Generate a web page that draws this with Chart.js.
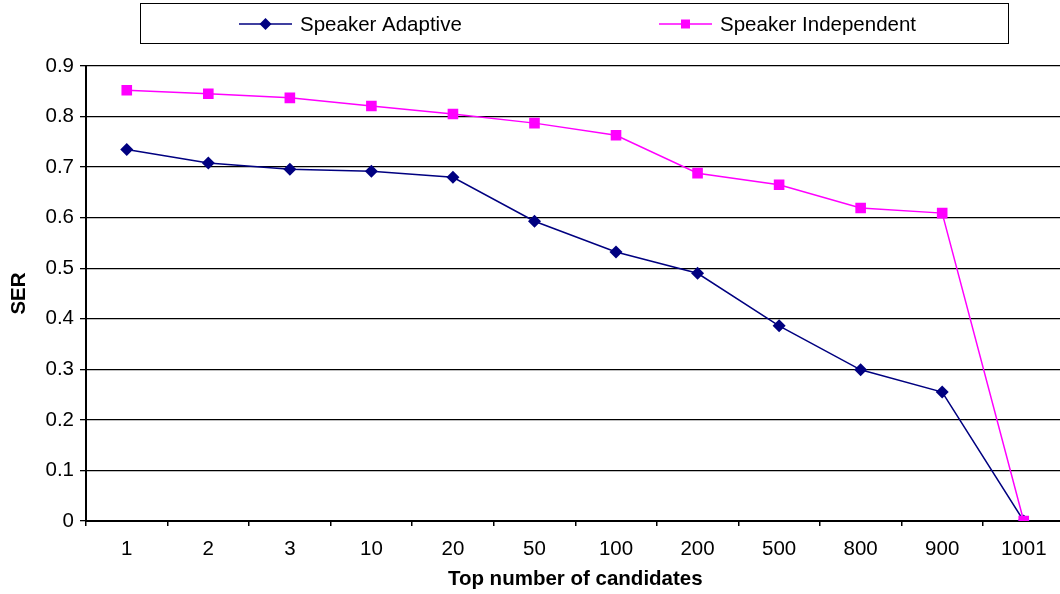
<!DOCTYPE html>
<html>
<head>
<meta charset="utf-8">
<script src="https://cdn.jsdelivr.net/npm/chart.js@4/dist/chart.umd.min.js"></script>
<style>
  html, body { margin: 0; padding: 0; background: #fff; overflow: hidden; }
  #wrap { width: 1060px; height: 594px; position: relative; overflow: hidden; }
</style>
</head>
<body>
<!-- plot area in the original runs past the right edge, so the canvas is a bit wider and clipped -->
<div id="wrap"><canvas id="serChart" width="1072" height="594"></canvas></div>
<script>
// candidate counts on the x axis
const candidates = ['1', '2', '3', '10', '20', '50', '100', '200', '500', '800', '900', '1001'];

// SER values
const speakerAdaptive = [0.735, 0.708, 0.696, 0.692, 0.680, 0.593, 0.532, 0.490, 0.386, 0.299, 0.255, 0];
const speakerIndependent = [0.852, 0.845, 0.837, 0.821, 0.805, 0.787, 0.763, 0.688, 0.665, 0.619, 0.609, 0];

const yTicks = [0, 0.1, 0.2, 0.3, 0.4, 0.5, 0.6, 0.7, 0.8, 0.9];

const FONT = 'Arial, "Liberation Sans", sans-serif';
const FSIZE = 20.5;

// legend in a framed box, like the original (line + marker + label)
const boxLegend = {
  id: 'boxLegend',
  afterDraw(chart) {
    const ctx = chart.ctx;
    ctx.save();
    ctx.strokeStyle = '#000';
    ctx.lineWidth = 1;
    ctx.strokeRect(140.5, 3.5, 868, 40);

    const items = [
      { ds: chart.data.datasets[0], x: 239, r: 6 },
      { ds: chart.data.datasets[1], x: 659, r: 6 }
    ];
    const y = 24;
    items.forEach(it => {
      const ds = it.ds;
      ctx.strokeStyle = ds.borderColor;
      ctx.lineWidth = 1.5;
      ctx.beginPath();
      ctx.moveTo(it.x, y);
      ctx.lineTo(it.x + 53, y);
      ctx.stroke();

      const cx = it.x + 26.5;
      const r = it.r;
      ctx.fillStyle = ds.pointBackgroundColor;
      ctx.beginPath();
      if (ds.pointStyle === 'rectRot') {
        ctx.moveTo(cx - r, y);
        ctx.lineTo(cx, y - r);
        ctx.lineTo(cx + r, y);
        ctx.lineTo(cx, y + r);
      } else {
        const s = r * 0.75;
        ctx.rect(cx - s, y - s, 2 * s, 2 * s);
      }
      ctx.closePath();
      ctx.fill();

      ctx.fillStyle = '#000';
      ctx.font = FSIZE + 'px ' + FONT;
      ctx.textBaseline = 'middle';
      ctx.textAlign = 'left';
      ctx.fillText(ds.label, it.x + 61, y + 1);
    });
    ctx.restore();
  }
};

const ctx = document.getElementById('serChart').getContext('2d');
new Chart(ctx, {
  type: 'line',
  data: {
    labels: candidates,
    datasets: [
      {
        label: 'Speaker Adaptive',
        data: speakerAdaptive,
        order: 1,
        borderColor: '#000080',
        backgroundColor: '#000080',
        pointBackgroundColor: '#000080',
        pointBorderColor: '#000080',
        pointStyle: 'rectRot',
        pointRadius: 6.5,
        pointBorderWidth: 0,
        borderWidth: 1.5,
        tension: 0
      },
      {
        label: 'Speaker Independent',
        data: speakerIndependent,
        order: 0, // magenta sits on top, as in the original
        borderColor: '#FF00FF',
        backgroundColor: '#FF00FF',
        pointBackgroundColor: '#FF00FF',
        pointBorderColor: '#FF00FF',
        pointStyle: 'rect',
        pointRadius: 7.5,
        pointBorderWidth: 0,
        borderWidth: 1.5,
        tension: 0
      }
    ]
  },
  options: {
    responsive: false,
    animation: false,
    devicePixelRatio: 1,
    layout: { padding: { top: 66, right: 2, left: 7, bottom: 2 } },
    plugins: {
      legend: { display: false },
      tooltip: { enabled: false }
    },
    scales: {
      x: {
        offset: true,
        afterFit(axis) { axis.height = 71; },
        grid: {
          offset: true,
          drawOnChartArea: false,
          drawTicks: true,
          tickLength: 5,
          color: '#000',
          lineWidth: 1.5
        },
        border: { color: '#000', width: 2 },
        ticks: {
          color: '#000',
          font: { size: FSIZE, family: FONT },
          padding: 11,
          maxRotation: 0
        },
        title: {
          display: true,
          text: 'Top number of candidates',
          color: '#000',
          font: { size: FSIZE, weight: 'bold', family: FONT },
          padding: { top: 0, bottom: 0 }
        }
      },
      y: {
        min: 0,
        max: 0.9,
        afterFit(axis) { axis.width = 79; },
        afterBuildTicks(axis) {
          axis.ticks = yTicks.map(v => ({ value: v }));
        },
        grid: {
          color: '#000',
          lineWidth: 1.3,
          drawTicks: true,
          tickLength: 6
        },
        border: { color: '#000', width: 2 },
        ticks: {
          color: '#000',
          font: { size: FSIZE, family: FONT },
          padding: 6
        },
        title: {
          display: true,
          text: 'SER',
          color: '#000',
          font: { size: FSIZE, weight: 'bold', family: FONT },
          padding: { top: 0, bottom: 4 }
        }
      }
    }
  },
  plugins: [boxLegend]
});
</script>
</body>
</html>
